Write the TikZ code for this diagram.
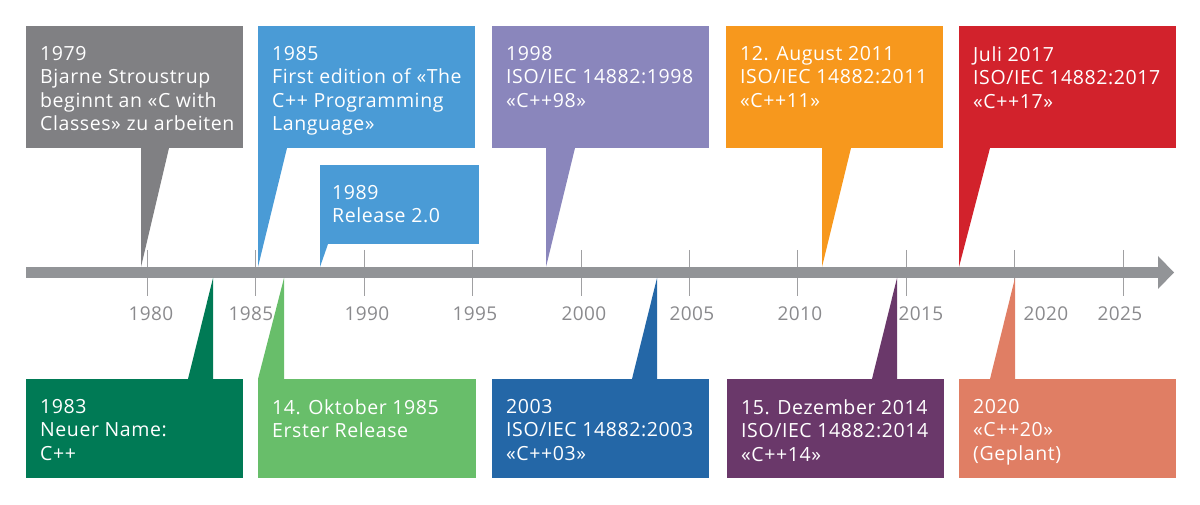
\documentclass[tikz,border=0pt]{standalone}
\usepackage{fontspec}
\setmainfont{Open Sans}
\newfontfamily\boxfont[LetterSpace=3]{Open Sans}
\newfontfamily\yearfont[LetterSpace=2]{Open Sans}
\usetikzlibrary{arrows.meta}
\definecolor{cgray}{HTML}{808083}
\definecolor{cblue}{HTML}{4A9BD6}
\definecolor{cviolet}{HTML}{8A86BC}
\definecolor{corange}{HTML}{F7981D}
\definecolor{cred}{HTML}{D2222C}
\definecolor{cdgreen}{HTML}{007A55}
\definecolor{clgreen}{HTML}{68BE6A}
\definecolor{cdblue}{HTML}{2467A7}
\definecolor{cplum}{HTML}{6A386A}
\definecolor{csalmon}{HTML}{E07E64}
\definecolor{bargray}{HTML}{929497}
\definecolor{tickgray}{HTML}{A0A0A2}
\definecolor{labgray}{HTML}{8A8A8D}
\begin{document}
\begin{tikzpicture}[x=1pt,y=-1pt,
    box/.style={anchor=north west,minimum width=217pt,inner sep=0pt,outer sep=0pt},
    topbox/.style={box,minimum height=122pt},
    botbox/.style={box,minimum height=99pt},
    info/.style={anchor=north west,inner sep=0pt,align=left,text=white,font=\boxfont\fontsize{19.5}{23.5}\selectfont},
    yearlabel/.style={text=labgray,inner sep=0pt,font=\yearfont\fontsize{19}{23.5}\selectfont},
    yeartick/.style={draw=tickgray,line width=1pt},
    timeline/.style={draw=bargray,line width=11pt,-{Triangle[length=16pt,width=33pt,line width=0pt]}}]
    \useasboundingbox (0,0) rectangle (1200,505);
    \foreach \yr/\lx in {1980/151,1985/251,1990/367,1995/475,2000/584,2005/692,2010/800,2015/921,2020/1046,2025/1120}{
        \draw[yeartick] ({147.5+(\yr-1980)*21.68},250) -- ++(0,46);
        \node[yearlabel] (y\yr) at (\lx,314) {\yr};
    }
    \coordinate (ax0) at (26,272.5);
    \coordinate (ax1) at (1174,272.5);
    \draw[timeline] (ax0) -- (ax1);

    \node[topbox,fill=cgray] (b79) at (26,26) {};
    \node[topbox,fill=cblue] (b85) at (258,26) {};
    \node[box,minimum width=159pt,minimum height=79pt,fill=cblue] (b89) at (320,165) {};
    \node[topbox,fill=cviolet] (b98) at (492,26) {};
    \node[topbox,fill=corange] (b11) at (726,26) {};
    \node[topbox,fill=cred] (b17) at (959,26) {};
    \node[botbox,fill=cdgreen] (b83) at (26,379) {};
    \node[botbox,fill=clgreen,minimum width=218pt] (b85o) at (258,379) {};
    \node[botbox,fill=cdblue] (b03) at (492,379) {};
    \node[botbox,fill=cplum] (b14) at (727,379) {};
    \node[botbox,fill=csalmon] (b20) at (959,379) {};

    \coordinate (t79) at (141,267);
    \coordinate (t85) at (258,267);
    \coordinate (t89) at (320,267);
    \coordinate (t98) at (546,267);
    \coordinate (t11) at (822,267);
    \coordinate (t17) at (959,267);
    \coordinate (t83) at (213,278);
    \coordinate (t85o) at (284,278);
    \coordinate (t03) at (657,278);
    \coordinate (t14) at (897,278);
    \coordinate (t20) at (1015,278);

    \fill[cgray] (t79 |- b79.south) -- (t79) -- ([xshift=28pt]t79 |- b79.south) -- cycle;
    \fill[cblue] (t85 |- b85.south) -- (t85) -- ([xshift=29pt]t85 |- b85.south) -- cycle;
    \fill[cblue] (t89 |- b89.south) -- (t89) -- ([xshift=8pt]t89 |- b89.south) -- cycle;
    \fill[cviolet] (t98 |- b98.south) -- (t98) -- ([xshift=29pt]t98 |- b98.south) -- cycle;
    \fill[corange] (t11 |- b11.south) -- (t11) -- ([xshift=29pt]t11 |- b11.south) -- cycle;
    \fill[cred] (t17 |- b17.south) -- (t17) -- ([xshift=31pt]t17 |- b17.south) -- cycle;
    \fill[cdgreen] ([xshift=-25pt]t83 |- b83.north) -- (t83) -- (t83 |- b83.north) -- cycle;
    \fill[clgreen] ([xshift=-26pt]t85o |- b85o.north) -- (t85o) -- (t85o |- b85o.north) -- cycle;
    \fill[cdblue] ([xshift=-25pt]t03 |- b03.north) -- (t03) -- (t03 |- b03.north) -- cycle;
    \fill[cplum] ([xshift=-25pt]t14 |- b14.north) -- (t14) -- (t14 |- b14.north) -- cycle;
    \fill[csalmon] ([xshift=-25pt]t20 |- b20.north) -- (t20) -- (t20 |- b20.north) -- cycle;

    \node[info] (i79) at ([shift={(14,20)}]b79.north west) {1979\\Bjarne Stroustrup\\beginnt an «C with\\Classes» zu arbeiten};
    \node[info] (i85) at ([shift={(14,20)}]b85.north west) {1985\\First edition of «The\\C++ Programming\\Language»};
    \node[info] (i89) at ([shift={(12,20)}]b89.north west) {1989\\Release 2.0};
    \node[info] (i98) at ([shift={(14,20)}]b98.north west) {1998\\ISO/IEC 14882:1998\\«C++98»};
    \node[info] (i11) at ([shift={(14,20)}]b11.north west) {12. August 2011\\ISO/IEC 14882:2011\\«C++11»};
    \node[info] (i17) at ([shift={(14,20)}]b17.north west) {Juli 2017\\ISO/IEC 14882:2017\\«C++17»};
    \node[info] (i83) at ([shift={(14,20)}]b83.north west) {1983\\Neuer Name:\\C++};
    \node[info] (i85o) at ([shift={(14,20)}]b85o.north west) {14. Oktober 1985\\Erster Release};
    \node[info] (i03) at ([shift={(14,20)}]b03.north west) {2003\\ISO/IEC 14882:2003\\«C++03»};
    \node[info] (i14) at ([shift={(14,20)}]b14.north west) {15. Dezember 2014\\ISO/IEC 14882:2014\\«C++14»};
    \node[info] (i20) at ([shift={(14,20)}]b20.north west) {2020\\«C++20»\\(Geplant)};
\end{tikzpicture}
\end{document}
